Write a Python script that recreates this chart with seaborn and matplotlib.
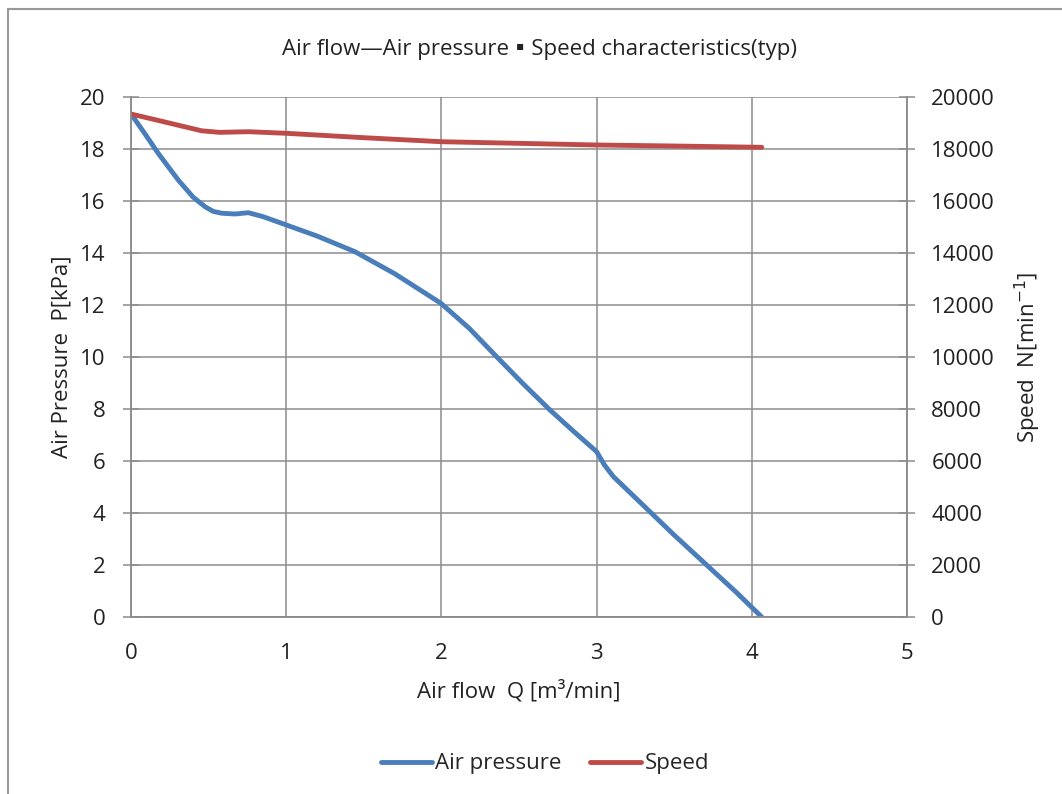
import numpy as np
import pandas as pd
import matplotlib
matplotlib.use("Agg")
import matplotlib.pyplot as plt
import seaborn as sns
from matplotlib.lines import Line2D

# values
flow_p = [0.0, 0.088, 0.176, 0.304, 0.40, 0.477, 0.53, 0.584, 0.67, 0.756, 0.85, 1.0,
          1.2, 1.443, 1.7, 1.996, 2.18, 2.356, 2.53, 2.70, 2.85, 3.0, 3.05, 3.108,
          3.30, 3.50, 3.709, 3.90, 4.064]
pressure = [19.35, 18.6, 17.83, 16.81, 16.15, 15.78, 15.6, 15.53, 15.5, 15.55, 15.4, 15.08,
            14.65, 14.05, 13.2, 12.07, 11.1, 10.01, 8.95, 7.96, 7.15, 6.36, 5.85, 5.40,
            4.3, 3.15, 2.0, 0.95, 0.0]

flow_n = [0.0, 0.21, 0.455, 0.57, 0.756, 1.0, 1.5, 2.0, 2.5, 3.0, 3.5, 4.064]
speed = [19346, 19050, 18700, 18640, 18665, 18604, 18435, 18280, 18218, 18154, 18115, 18065]

blue = "#4a7ebb"
red = "#be4b48"
grid_col = "#8c8c8c"
txt = "#222222"
fs = 16

sns.set_style("white")
plt.rcParams["font.family"] = ["Open Sans", "Noto Sans CJK JP", "DejaVu Sans"]
plt.rcParams["font.size"] = fs

fig = plt.figure(figsize=(10.62, 7.94), dpi=100)
ax = fig.add_axes([131 / 1062, 1 - 617 / 794, (907 - 131) / 1062, (617 - 97) / 794])
ax2 = ax.twinx()

df_p = pd.DataFrame({"flow": flow_p, "pressure": pressure})
df_n = pd.DataFrame({"flow": flow_n, "speed": speed})
sns.lineplot(data=df_p, x="flow", y="pressure", ax=ax, color=blue, lw=3.5, sort=False)
sns.lineplot(data=df_n, x="flow", y="speed", ax=ax2, color=red, lw=3.5, sort=False)

ax.set_xlim(0, 5)
ax.set_ylim(0, 20)
ax2.set_ylim(0, 20000)
ax.set_xticks(np.arange(0, 6, 1))
ax.set_yticks(np.arange(0, 21, 2))
ax2.set_yticks(np.arange(0, 20001, 2000))

ax.grid(True, color=grid_col, lw=1.1)
ax.set_axisbelow(True)
for a in (ax, ax2):
    for s in a.spines.values():
        s.set_color(grid_col)
        s.set_linewidth(1.1)
    a.spines["top"].set_visible(False)
ax.tick_params(axis="y", direction="inout", length=11, width=1.1, color=grid_col,
               labelcolor=txt, labelsize=fs, pad=13)
ax.tick_params(axis="x", direction="inout", length=11, width=1.1, color=grid_col,
               labelcolor=txt, labelsize=fs, pad=13)
ax2.tick_params(axis="y", direction="inout", length=11, width=1.1, color=grid_col,
                labelcolor=txt, labelsize=fs, pad=12)

ax.set_xlabel("Air flow  Q [m\u00b3/min]", fontsize=fs, color=txt, labelpad=12)
ax.set_ylabel("Air Pressure  P[kPa]", fontsize=fs, color=txt, labelpad=5)
ax2.set_ylabel("Speed  N[min$^{-1}$]", fontsize=fs, color=txt, labelpad=13)

fig.text(540 / 1062, 1 - 50 / 794, "Air flow\u2014Air pressure\u25aaSpeed characteristics(typ)",
         ha="center", va="center", fontsize=fs, color=txt)

handles = [Line2D([], [], color=blue, lw=3.5), Line2D([], [], color=red, lw=3.5)]
fig.legend(handles, ["Air pressure", "Speed"], loc="center", ncol=2,
           bbox_to_anchor=(545 / 1062, 1 - 764 / 794), frameon=False,
           fontsize=fs, handlelength=2.3, handletextpad=0.15, columnspacing=1.3)

# outer chart border (only top/left visible in the reference)
fig.add_artist(Line2D([8 / 1062, 8 / 1062], [0, 1 - 9 / 794], color="#999999", lw=1.5))
fig.add_artist(Line2D([8 / 1062, 1], [1 - 9 / 794, 1 - 9 / 794], color="#999999", lw=1.5))

fig.savefig("out.png", dpi=100, facecolor="white")
